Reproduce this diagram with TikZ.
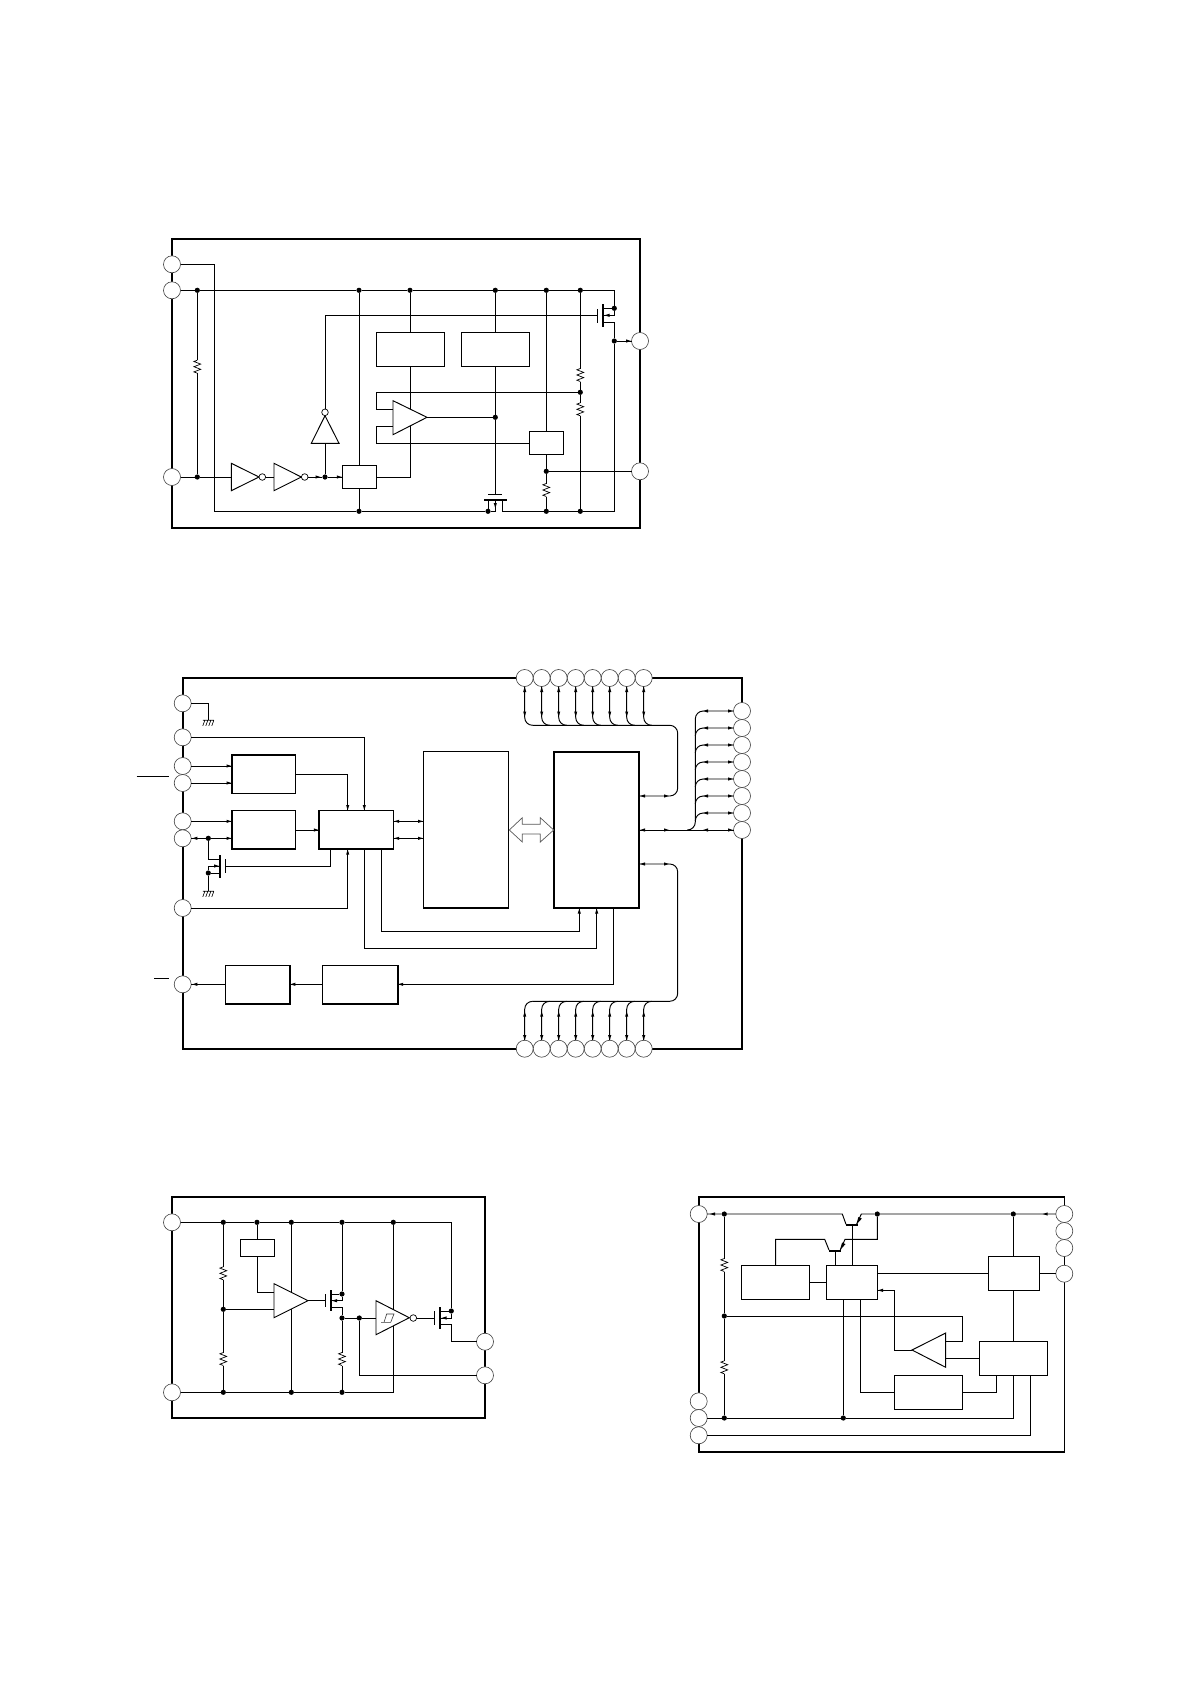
\documentclass[tikz,border=0pt]{standalone}
\usetikzlibrary{calc}
\definecolor{pinc}{gray}{0.25}
\tikzset{
 w/.style={line width=0.95pt,black,line join=miter},
 thick frame/.style={line width=1.9pt,black,line join=miter,line cap=rect},
 pinn/.style={circle,draw=pinc,line width=0.6pt,fill=white,minimum size=17pt,inner sep=0pt,outer sep=0pt},
 jn/.style={circle,fill=black,draw=none,minimum size=5.2pt,inner sep=0pt,outer sep=0pt},
 blk/.style={rectangle,draw=black,line width=0.95pt,fill=white,inner sep=0pt,outer sep=0pt},
 tri/.style={draw=black,line width=0.95pt,fill=white,line join=miter},
 bub/.style={circle,draw=black,line width=0.7pt,fill=white,minimum size=6.6pt,inner sep=0pt,outer sep=0pt},
 chan/.style={line width=1.7pt,black},
 plate/.style={line width=0.95pt,black},
 ovb/.style={line width=0.85pt,black},
 hollow/.style={draw=black!65,line width=0.7pt,fill=white,line join=miter},
}
\def\nbox#1#2#3#4#5{\pgfmathsetmacro\bw{#4-(#2)}\pgfmathsetmacro\bh{#5-(#3)}%
 \node[blk,minimum width=\bw pt,minimum height=\bh pt] (#1) at ({(#2+#4)/2},{(#3+#5)/2}) {};}
\def\ahR(#1,#2){\fill (#1,#2) -- ++(-5,1.6) -- ++(0,-3.2) -- cycle;}
\def\ahL(#1,#2){\fill (#1,#2) -- ++(5,1.6) -- ++(0,-3.2) -- cycle;}
\def\ahU(#1,#2){\fill (#1,#2) -- ++(1.6,5) -- ++(-3.2,0) -- cycle;}
\def\ahD(#1,#2){\fill (#1,#2) -- ++(1.6,-5) -- ++(-3.2,0) -- cycle;}
\def\resv(#1,#2){\fill[white] ($(#1,#2)+(-1.2,-6.5)$) rectangle ($(#1,#2)+(1.2,6.5)$);
 \draw[line width=0.7pt,line join=miter] ($(#1,#2)+(0,-6.5)$) -- ++(-3.4,1.3) -- ++(6.8,2.6) -- ++(-6.8,2.6) -- ++(6.8,2.6) -- ++(-6.8,2.6) -- ++(3.4,1.3);}
\def\gnd(#1,#2){\draw[line width=0.65pt] ($(#1,#2)+(-5.5,0)$) -- ++(11,0)
  ($(#1,#2)+(-3.5,0)$) -- ++(-2,5.5) ($(#1,#2)+(-0.5,0)$) -- ++(-2,5.5)
  ($(#1,#2)+(2.5,0)$) -- ++(-2,5.5) ($(#1,#2)+(5.5,0)$) -- ++(-2,5.5);}
\begin{document}
\begin{tikzpicture}[x=1pt,y=-1pt]
\useasboundingbox (0,0) rectangle (1190,1684);
\fill[white] (0,0) rectangle (1190,1684);

%% ================= Diagram 1 =================
\draw[thick frame] (172,239) rectangle (640,527.7);
\node[pinn] (a1) at (172,264.3) {};
\node[pinn] (a2) at (172,290.3) {};
\node[pinn] (a3) at (172,477) {};
\node[pinn] (a4) at (640,341) {};
\node[pinn] (a5) at (640,471.3) {};
\node[jn] (t1) at (197.3,290.3) {};
\node[jn] (t2) at (359,290.3) {};
\node[jn] (t3) at (410,290.3) {};
\node[jn] (t4) at (495.3,290.3) {};
\node[jn] (t5) at (546.3,290.3) {};
\node[jn] (t6) at (580.3,290.3) {};
\node[jn] (b0) at (197.3,477) {};
\node[jn] (b1) at (359,511.3) {};
\node[jn] (b2) at (488,511.3) {};
\node[jn] (b3) at (546.3,511.3) {};
\node[jn] (b4) at (580.3,511.3) {};
\node[jn] (dinv) at (325,477) {};
\node[jn] (dmos) at (614.3,308.3) {};
\node[jn] (dout) at (614.3,341) {};
\node[jn] (dcmp) at (495.3,417.3) {};
\node[jn] (dfb) at (580.3,392.3) {};
\node[jn] (dsen) at (546.3,471.3) {};
\coordinate (railL) at (214.3,511.3);
\coordinate (railR) at (614.3,511.3);
\coordinate (topR) at (614.3,290.3);
\coordinate (mgate) at (597.3,315.3);
\coordinate (qgate) at (495.3,494.3);
% wires
\draw[w] (a2) -- (t1) -- (t2) -- (t3) -- (t4) -- (t5) -- (t6) -- (topR) -- (dmos) -- (614.3,315.3) -- (603.5,315.3);
\draw[w] (a1) -| (railL) -- (b1) -- (b2) -- (495.3,511.3) -- (495.3,500);
\draw[w] (t1) -- (b0);
\draw[w] (a3) -- (b0) -- (231.3,477);
\draw[w] (603,322) -- (614.3,322) -- (dout) -- (railR) -- (b4) -- (b3) -- (502.3,511.3) -- (502.3,500);
\draw[w] (dout) -- (a4);
\draw[w] (dsen) -- (a5);
\draw[w] (t6) -- (dfb) -- (b4);
\draw[w] (t5) -- (546.3,431.3);
\draw[w] (546.3,454.3) -- (dsen) -- (b3);
\draw[w] (t2) -- (b1);
\draw[w] (t3) -- (410,477) -- (376.7,477);
\draw[w] (t4) -- (dcmp) -- (qgate);
\draw[w] (427,417.3) -- (dcmp);
\draw[w] (393,409.3) -- (376.3,409.3) -- (376.3,392.3) -- (dfb);
\draw[w] (393,426.3) -- (376.3,426.3) -- (376.3,443.3) -- (529.3,443.3);
\draw[w] (325,408.9) -- (325,315.3) -- (mgate);
\draw[w] (dinv) -- (325,443.3);
\draw[w] (308,477) -- (dinv) -- (342.3,477);
\draw[w] (265.6,477) -- (274,477);
% blocks
\nbox{aB1}{376.3}{332.3}{444.7}{366.3}
\nbox{aB2}{461.3}{332.3}{529.7}{366.3}
\nbox{aB3}{529.3}{431.3}{563.7}{454.3}
\nbox{aB4}{342.3}{465.3}{376.7}{488.3}
% inverters, comparator
\draw[tri] (231.3,463.3) -- (259,477) -- (231.3,490.7) -- cycle;
\node[bub] (ab1) at (262.3,477) {};
\draw[tri] (274,463.3) -- (301.3,477) -- (274,490.7) -- cycle;
\node[bub] (ab2) at (304.7,477) {};
\draw[tri] (311.3,443.3) -- (325,415.7) -- (339,443.3) -- cycle;
\node[bub] (ab3) at (325,412.3) {};
\draw[tri] (393,400.7) -- (427,417.3) -- (393,434.7) -- cycle;
% resistors
\resv(197.3,366.7) \resv(580.3,375) \resv(580.3,409.3) \resv(546.3,490)
% top MOS
\draw[plate] (597.3,309.3) -- (597.3,322.7);
\draw[chan] (602.7,304) -- (602.7,326.7);
\draw[w] (602.7,308.3) -- (dmos);
\ahL(604.5,315.3)
% bottom MOS
\draw[plate] (488,494.3) -- (502,494.3);
\draw[chan] (484.3,500) -- (506.7,500);
\draw[w] (488,500) -- (b2);
\ahD(495.3,508)
% arrowheads
\ahR(320.5,477) \ahR(341.8,477) \ahR(631,341)

%% ================= Diagram 2 =================
\draw[thick frame] (182.7,678) rectangle (742,1048.7);
\node[pinn] (p1) at (182.7,703.3) {};
\node[pinn] (p2) at (182.7,737.3) {};
\node[pinn] (p3) at (182.7,766) {};
\node[pinn] (p4) at (182.7,783) {};
\node[pinn] (p5) at (182.7,821.3) {};
\node[pinn] (p6) at (182.7,838.3) {};
\node[pinn] (p7) at (182.7,908) {};
\node[pinn] (p8) at (182.7,984.3) {};
\foreach \i [evaluate=\i as \xx using 524.7+17*(\i-1)] in {1,...,8}{
  \node[pinn] (tp\i) at (\xx,678) {};
  \node[pinn] (bp\i) at (\xx,1048.7) {};
}
\foreach \i [evaluate=\i as \yy using 711+17*(\i-1)] in {1,...,8}{
  \node[pinn] (rp\i) at (742,\yy) {};
}
\draw[ovb] (136.7,776.3) -- (169,776.3);
\draw[ovb] (154,978.3) -- (169,978.3);
\nbox{cA}{231.7}{754.7}{295.7}{793.7}
\nbox{cB}{231.7}{810.3}{295.7}{849}
\nbox{cC}{319}{810.3}{393.7}{849}
\nbox{cE}{423.3}{751.7}{508.3}{908}
\nbox{cF}{553.7}{751.7}{639}{908}
\nbox{cG}{322.7}{965.3}{397.7}{1004}
\nbox{cH}{225.3}{965.3}{289.7}{1004}
\draw[thick frame,line cap=butt] (cA.south west) -- (cA.north west) -- (cA.north east);
\draw[thick frame,line cap=butt] (cB.north west) -- (cB.south west) -- (cB.south east);
\draw[thick frame,line cap=butt] (cC.north west) -- (cC.south west) -- (cC.south east);
\draw[thick frame,line cap=butt] (cG.north east) -- (cG.south east) -- (cG.south west);
\draw[thick frame,line cap=butt] (cH.north east) -- (cH.south east) -- (cH.south west);
\draw[line width=1.3pt] (cE.north west) -- (cE.north east) (cE.south west) -- (cE.south east);
\draw[line width=1.9pt] (cF.north west) rectangle (cF.south east);
\node[jn] (cd1) at (208.3,838.3) {};
\node[jn] (cd2) at (208.3,873) {};
\coordinate (g1) at (208.3,720.3);
\coordinate (g2) at (208.3,891.3);
\coordinate (cgate) at (225.3,866.7);
\draw[w] (p1) -| (g1);
\draw[w] (p2) -| (cC.north -| 364.3,0);
\draw[w] (p3) -- (cA.west |- p3);
\draw[w] (p4) -- (cA.west |- p4);
\draw[w] (p5) -- (cB.west |- p5);
\draw[w] (p6) -- (cd1) -- (cB.west |- p6);
\draw[w] (cA.east |- 0,774.3) -- (347.7,774.3) -- (347.7,810.3);
\draw[w] (cB.east |- 0,830) -- (cC.west |- 0,830);
\draw[w] (p7) -| (347.7,849);
\draw[w] (cd1) -- (208.3,859.3) -- (220,859.3);
\draw[w] (220,866) -- (208.3,866) -- (cd2) -- (g2);
\draw[w] (cd2) -- (220,873);
\draw[w] (cgate) -- (330.7,866.7) -- (330.7,849);
\draw[chan] (220,855.3) -- (220,878);
\draw[plate] (225.3,859.3) -- (225.3,872.7);
\ahR(219,866)
\gnd(208.3,720.3) \gnd(208.3,891.3)
\draw[w] (cC.east |- p5) -- (cE.west |- p5);
\draw[w] (cC.east |- p6) -- (cE.west |- p6);
\draw[w] (364.3,849) -- (364.3,948.3) -- (596.7,948.3) -- (596.7,908);
\draw[w] (381.7,849) -- (381.7,931.3) -- (579.3,931.3) -- (579.3,908);
\draw[w] (613.7,908) -- (613.7,984.3) -- (397.7,984.3);
\draw[w] (cG.west |- p8) -- (cH.east |- p8);
\draw[w] (cH.west |- p8) -- (p8);
% hollow bus arrow
\draw[hollow] (509.3,830) -- (522.3,817.7) -- (522.3,824.3) -- (540.3,824.3) -- (540.3,817.7) -- (553.7,830) -- (540.3,842) -- (540.3,834) -- (522.3,834) -- (522.3,842) -- cycle;
% top bus
\foreach \i [evaluate=\i as \xx using 524.7+17*(\i-1)] in {1,...,8}{
  \draw[w] (tp\i) -- (\xx,717.3) .. controls (\xx,722) and (\xx+3.5,725.3) .. (\xx+8,725.3);
  \ahU(\xx,687) \ahD(\xx,716.5)
  \draw[w] (bp\i) -- (\xx,1009.3) .. controls (\xx,1004.6) and (\xx+3.5,1001.3) .. (\xx+8,1001.3);
  \ahU(\xx,1011.7) \ahD(\xx,1040.2)
}
\coordinate (busTL) at (532.7,725.3);
\coordinate (busBL) at (532.7,1001.3);
\draw[w] (busTL) -- (669.7,725.3) .. controls (674.2,725.3) and (677.7,728.8) .. (677.7,733.3) -- (677.7,788) .. controls (677.7,792.5) and (674.2,796) .. (669.7,796) -- (cF.east |- rp6);
\draw[w] (busBL) -- (669.7,1001.3) .. controls (674.2,1001.3) and (677.7,997.8) .. (677.7,993.3) -- (677.7,872) .. controls (677.7,867.5) and (674.2,864) .. (669.7,864) -- (639,864);
\draw[w] (rp8) -- (cF.east |- rp8);
\foreach \i [evaluate=\i as \yy using 711+17*(\i-1)] in {1,...,7}{
  \draw[w] (rp\i) -- (703.3,\yy) .. controls (698.8,\yy) and (695.3,\yy+3.5) .. (695.3,\yy+8);
  \ahL(703,\yy) \ahR(733,\yy)
}
\draw[w] (695.3,719) -- (695.3,822) .. controls (695.3,826.5) and (691.8,830) .. (687.3,830);
\ahL(703,830) \ahR(733,830)
\foreach \yy in {796,830,864}{ \ahL(640,\yy) \ahR(669,\yy) }
% other arrowheads
\ahR(231.5,766) \ahR(231.5,783) \ahR(231.5,821.3) \ahR(231.5,838.3) \ahL(192.3,838.3)
\ahR(318.8,830) \ahD(347.7,810) \ahD(364.3,810) \ahU(347.7,849.7)
\foreach \yy in {821.3,838.3}{ \ahL(394.2,\yy) \ahR(423,\yy) }
\ahU(579.3,908.6) \ahU(596.7,908.6)
\ahL(398.2,984.3) \ahL(290.3,984.3) \ahL(192.3,984.3)

%% ================= Diagram 3 =================
\draw[thick frame] (172,1196.7) rectangle (485,1418);
\node[pinn] (e1) at (172,1222.3) {};
\node[pinn] (e2) at (172,1392.3) {};
\node[pinn] (e3) at (485,1341.7) {};
\node[pinn] (e4) at (485,1375.3) {};
\foreach \n/\x in {1/223.3,2/257,3/291.3,4/342,5/393.3}{ \node[jn] (et\n) at (\x,1222.3) {}; }
\foreach \n/\x in {1/223.3,3/291.3,4/342}{ \node[jn] (eb\n) at (\x,1392.3) {}; }
\node[jn] (ediv) at (223.3,1309.3) {};
\node[jn] (em1) at (342,1294) {};
\node[jn] (em2) at (342,1318) {};
\node[jn] (em3) at (359.3,1318) {};
\node[jn] (em4) at (451.3,1311) {};
\nbox{eRef}{240.3}{1239.3}{274.7}{1256.3}
\coordinate (erailR) at (451.3,1222.3);
\coordinate (erailB) at (393.3,1392.3);
\draw[w] (e1) -- (et1) -- (et2) -- (et3) -- (et4) -- (et5) -- (erailR) -- (em4);
\draw[w] (e2) -- (eb1) -- (eb3) -- (eb4) -- (erailB) -- (et5);
\draw[w] (et1) -- (ediv) -- (eb1);
\draw[w] (ediv) -- (274,1309.3);
\draw[w] (et2) -- (eRef.north -| et2);
\draw[w] (eRef.south -| et2) -- (257,1292.3) -- (274,1292.3);
\draw[w] (et3) -- (eb3);
\draw[w] (et4) -- (em1) -- (342,1300.7) -- (331,1300.7);
\draw[w] (330.7,1307) -- (342,1307) -- (em2) -- (eb4);
\draw[w] (308,1300.7) -- (325.3,1300.7);
\draw[w] (em2) -- (em3) -- (376,1318);
\draw[w] (em3) |- (e4);
\draw[w] (416.6,1318) -- (434.7,1318);
\draw[w] (440,1311) -- (em4) -- (451.3,1318) -- (441,1318);
\draw[w] (440,1324.3) -- (451.3,1324.3) |- (e3);
\draw[tri] (274,1283.7) -- (308,1300.7) -- (274,1317.7) -- cycle;
\draw[tri] (376,1300.7) -- (409.3,1317.7) -- (376,1334.7) -- cycle;
\draw[line width=0.6pt,black!80] (381,1322.3) -- (390.7,1322.3) -- (394,1314) -- (386.7,1314) -- (384,1322.3);
\node[bub] (eb) at (413.3,1318) {};
\resv(223.3,1273.3) \resv(223.3,1359) \resv(342,1359)
\draw[plate] (325.3,1294) -- (325.3,1307.3);
\draw[chan] (330.7,1290) -- (330.7,1311.3);
\draw[w] (330.7,1294) -- (em1);
\ahL(332,1300.7)
\draw[plate] (434.7,1311.3) -- (434.7,1324.7);
\draw[chan] (440,1307.3) -- (440,1328.7);
\ahL(441.5,1318)

%% ================= Diagram 4 =================
\draw[line width=1pt] (1064.3,1196.7) -- (1064.3,1451.7);
\draw[thick frame] (1064.3,1196.7) -- (698.7,1196.7) -- (698.7,1451.7) -- (1064.3,1451.7);
\node[pinn] (f1) at (698.7,1214) {};
\node[pinn] (f2) at (698.7,1401.3) {};
\node[pinn] (f3) at (698.7,1418) {};
\node[pinn] (f4) at (698.7,1435.3) {};
\node[pinn] (f5) at (1064.3,1214) {};
\node[pinn] (f6) at (1064.3,1231) {};
\node[pinn] (f7) at (1064.3,1248) {};
\node[pinn] (f8) at (1064.3,1273.7) {};
\nbox{fI}{741.3}{1265.3}{809.7}{1299.3}
\nbox{fJ}{826.3}{1265.3}{877.3}{1299.3}
\nbox{fK}{988.3}{1256.3}{1039.3}{1290.3}
\nbox{fL}{979.3}{1341.3}{1047.3}{1375.3}
\nbox{fM}{894.3}{1375.3}{962.7}{1409.3}
\node[jn] (fd1) at (724.3,1214) {};
\node[jn] (fd2) at (877.3,1214) {};
\node[jn] (fd3) at (1013.3,1214) {};
\node[jn] (fd4) at (724.3,1316) {};
\node[jn] (fd5) at (724.3,1418) {};
\node[jn] (fd6) at (843.3,1418) {};
\draw[w] (f1) -- (fd1) -- (842.3,1214) -- (846,1224.3);
\draw[w] (856.7,1224.3) -- (861.3,1214) -- (fd2) -- (fd3) -- (f5);
\draw[chan] (846,1224.7) -- (858,1224.7);
\draw[w] (852.3,1224.7) -- (852.3,1265.3);
\draw[w] (fd2) -- (877.3,1239.3) -- (845,1239.3) -- (840.3,1250);
\draw[w] (829,1250) -- (824.7,1239.3) -- (775.7,1239.3) -- (775.7,1265.3);
\draw[chan] (829.3,1250.7) -- (840.7,1250.7);
\draw[w] (835.3,1250.7) -- (835.3,1265.3);
\draw[w] (fI.east) -- (fI.east -| fJ.west);
\draw[w] (fJ.east |- f8) -- (fK.west |- f8);
\draw[w] (fK.east |- f8) -- (f8);
\draw[w] (fd3) -- (fK.north -| fd3);
\draw[w] (fK.south -| fd3) -- (fL.north -| fd3);
\draw[w] (fd1) -- (fd4) -- (fd5);
\draw[w] (f3) -- (fd5) -- (fd6) -- (1013.3,1418) -- (1013.3,1375.3);
\draw[w] (f4) -- (1030.3,1435.3) -- (1030.3,1375.3);
\draw[w] (843.3,1299.3) -- (fd6);
\draw[w] (860.3,1299.3) -- (860.3,1392.3) -- (fM.west);
\draw[w] (fM.east) -- (996.3,1392.3) -- (996.3,1375.3);
\draw[w] (912,1350) -- (894.3,1350) -- (894.3,1290.3) -- (877.3,1290.3);
\draw[w] (945.7,1341.3) -- (962.7,1341.3) -- (962.7,1316) -- (fd4);
\draw[w] (945.7,1358.3) -- (979.3,1358.3);
\draw[tri] (912,1350) -- (945.7,1333) -- (945.7,1367.3) -- cycle;
\resv(724.3,1265) \resv(724.3,1367.3)
\ahL(710,1214) \ahL(1042.7,1214) \ahL(878,1290.3)
% emitter arrows
\fill (856.3,1224.5) -- (861.8,1218.6) -- (858.4,1217) -- cycle;
\fill (840,1250) -- (845.5,1244.1) -- (842.1,1242.5) -- cycle;
\end{tikzpicture}
\end{document}
